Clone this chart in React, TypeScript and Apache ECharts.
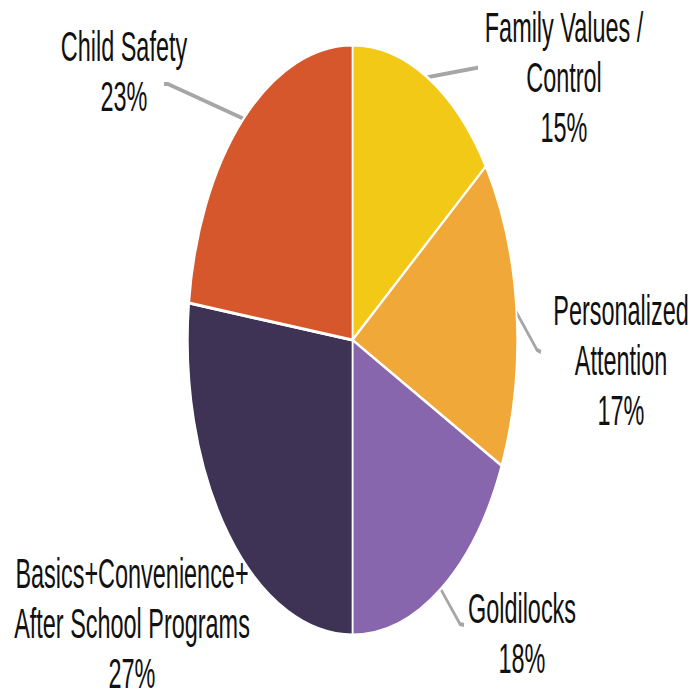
import React, { useEffect, useRef } from "react";
import * as echarts from "echarts";

// Data
const categories = [
  "Family Values /\nControl",
  "Personalized\nAttention",
  "Goldilocks",
  "Basics+Convenience+\nAfter School Programs",
  "Child Safety",
];
const values = [15, 17, 18, 27, 23];
const colors = ["#F2C916", "#F0A838", "#8766AE", "#3E3355", "#D6572B"];

// Layout (reference pixel coordinates, before horizontal squeeze)
const SX = 0.558;
const W = 695 / SX;
const labelCenters = [
  [564, 77],
  [621, 360],
  [522, 633],
  [132, 623],
  [124, 71],
];
const linePoints: number[][][] = [
  [[476, 68], [478, 67.5]],
  [[537, 350], [541, 352]],
  [[460, 624], [464, 625]],
  [],
  [[168, 84], [164, 84]],
];

export default function App() {
  const ref = useRef<HTMLDivElement>(null);
  useEffect(() => {
    if (!ref.current) return;
    const chart = echarts.init(ref.current, undefined, { renderer: "svg" });
    chart.setOption({
      animation: false,
      backgroundColor: "#ffffff",
      series: [
        {
          type: "pie",
          center: [352.5 / SX, 340],
          radius: 295,
          startAngle: 90,
          clockwise: true,
          avoidLabelOverlap: false,
          itemStyle: { borderColor: "#ffffff", borderWidth: 3 },
          label: {
            show: true,
            position: "outside",
            fontFamily: "Liberation Sans",
            fontSize: 42,
            lineHeight: 50,
            color: "#111111",
            formatter: (p: any) => `${p.name}\n${p.value}%`,
          },
          labelLine: {
            show: true,
            length: 20,
            length2: 10,
            lineStyle: { color: "#A6A6A6", width: 4 },
          },
          labelLayout: (params: any) => {
            const i = params.dataIndex;
            const c = labelCenters[i];
            const res: any = {
              x: c[0] / SX,
              y: c[1],
              align: "center",
              verticalAlign: "middle",
            };
            const rest = linePoints[i];
            if (rest.length && params.labelLinePoints) {
              const start = params.labelLinePoints[0];
              res.labelLinePoints = [
                [start[0], start[1]],
                ...rest.map((p) => [p[0] / SX, p[1]]),
              ];
            }
            return res;
          },
          data: categories.map((name, i) => ({
            name,
            value: values[i],
            itemStyle: { color: colors[i] },
            labelLine: linePoints[i].length ? undefined : { show: false },
          })),
        },
      ],
    });
    return () => chart.dispose();
  }, []);
  return (
    <div
      style={{
        position: "fixed",
        left: 0,
        top: 0,
        width: 695,
        height: 695,
        overflow: "hidden",
        background: "#fff",
      }}
    >
      <div
        ref={ref}
        style={{
          width: W,
          height: 695,
          transform: `scaleX(${SX})`,
          transformOrigin: "0 0",
        }}
      />
    </div>
  );
}
